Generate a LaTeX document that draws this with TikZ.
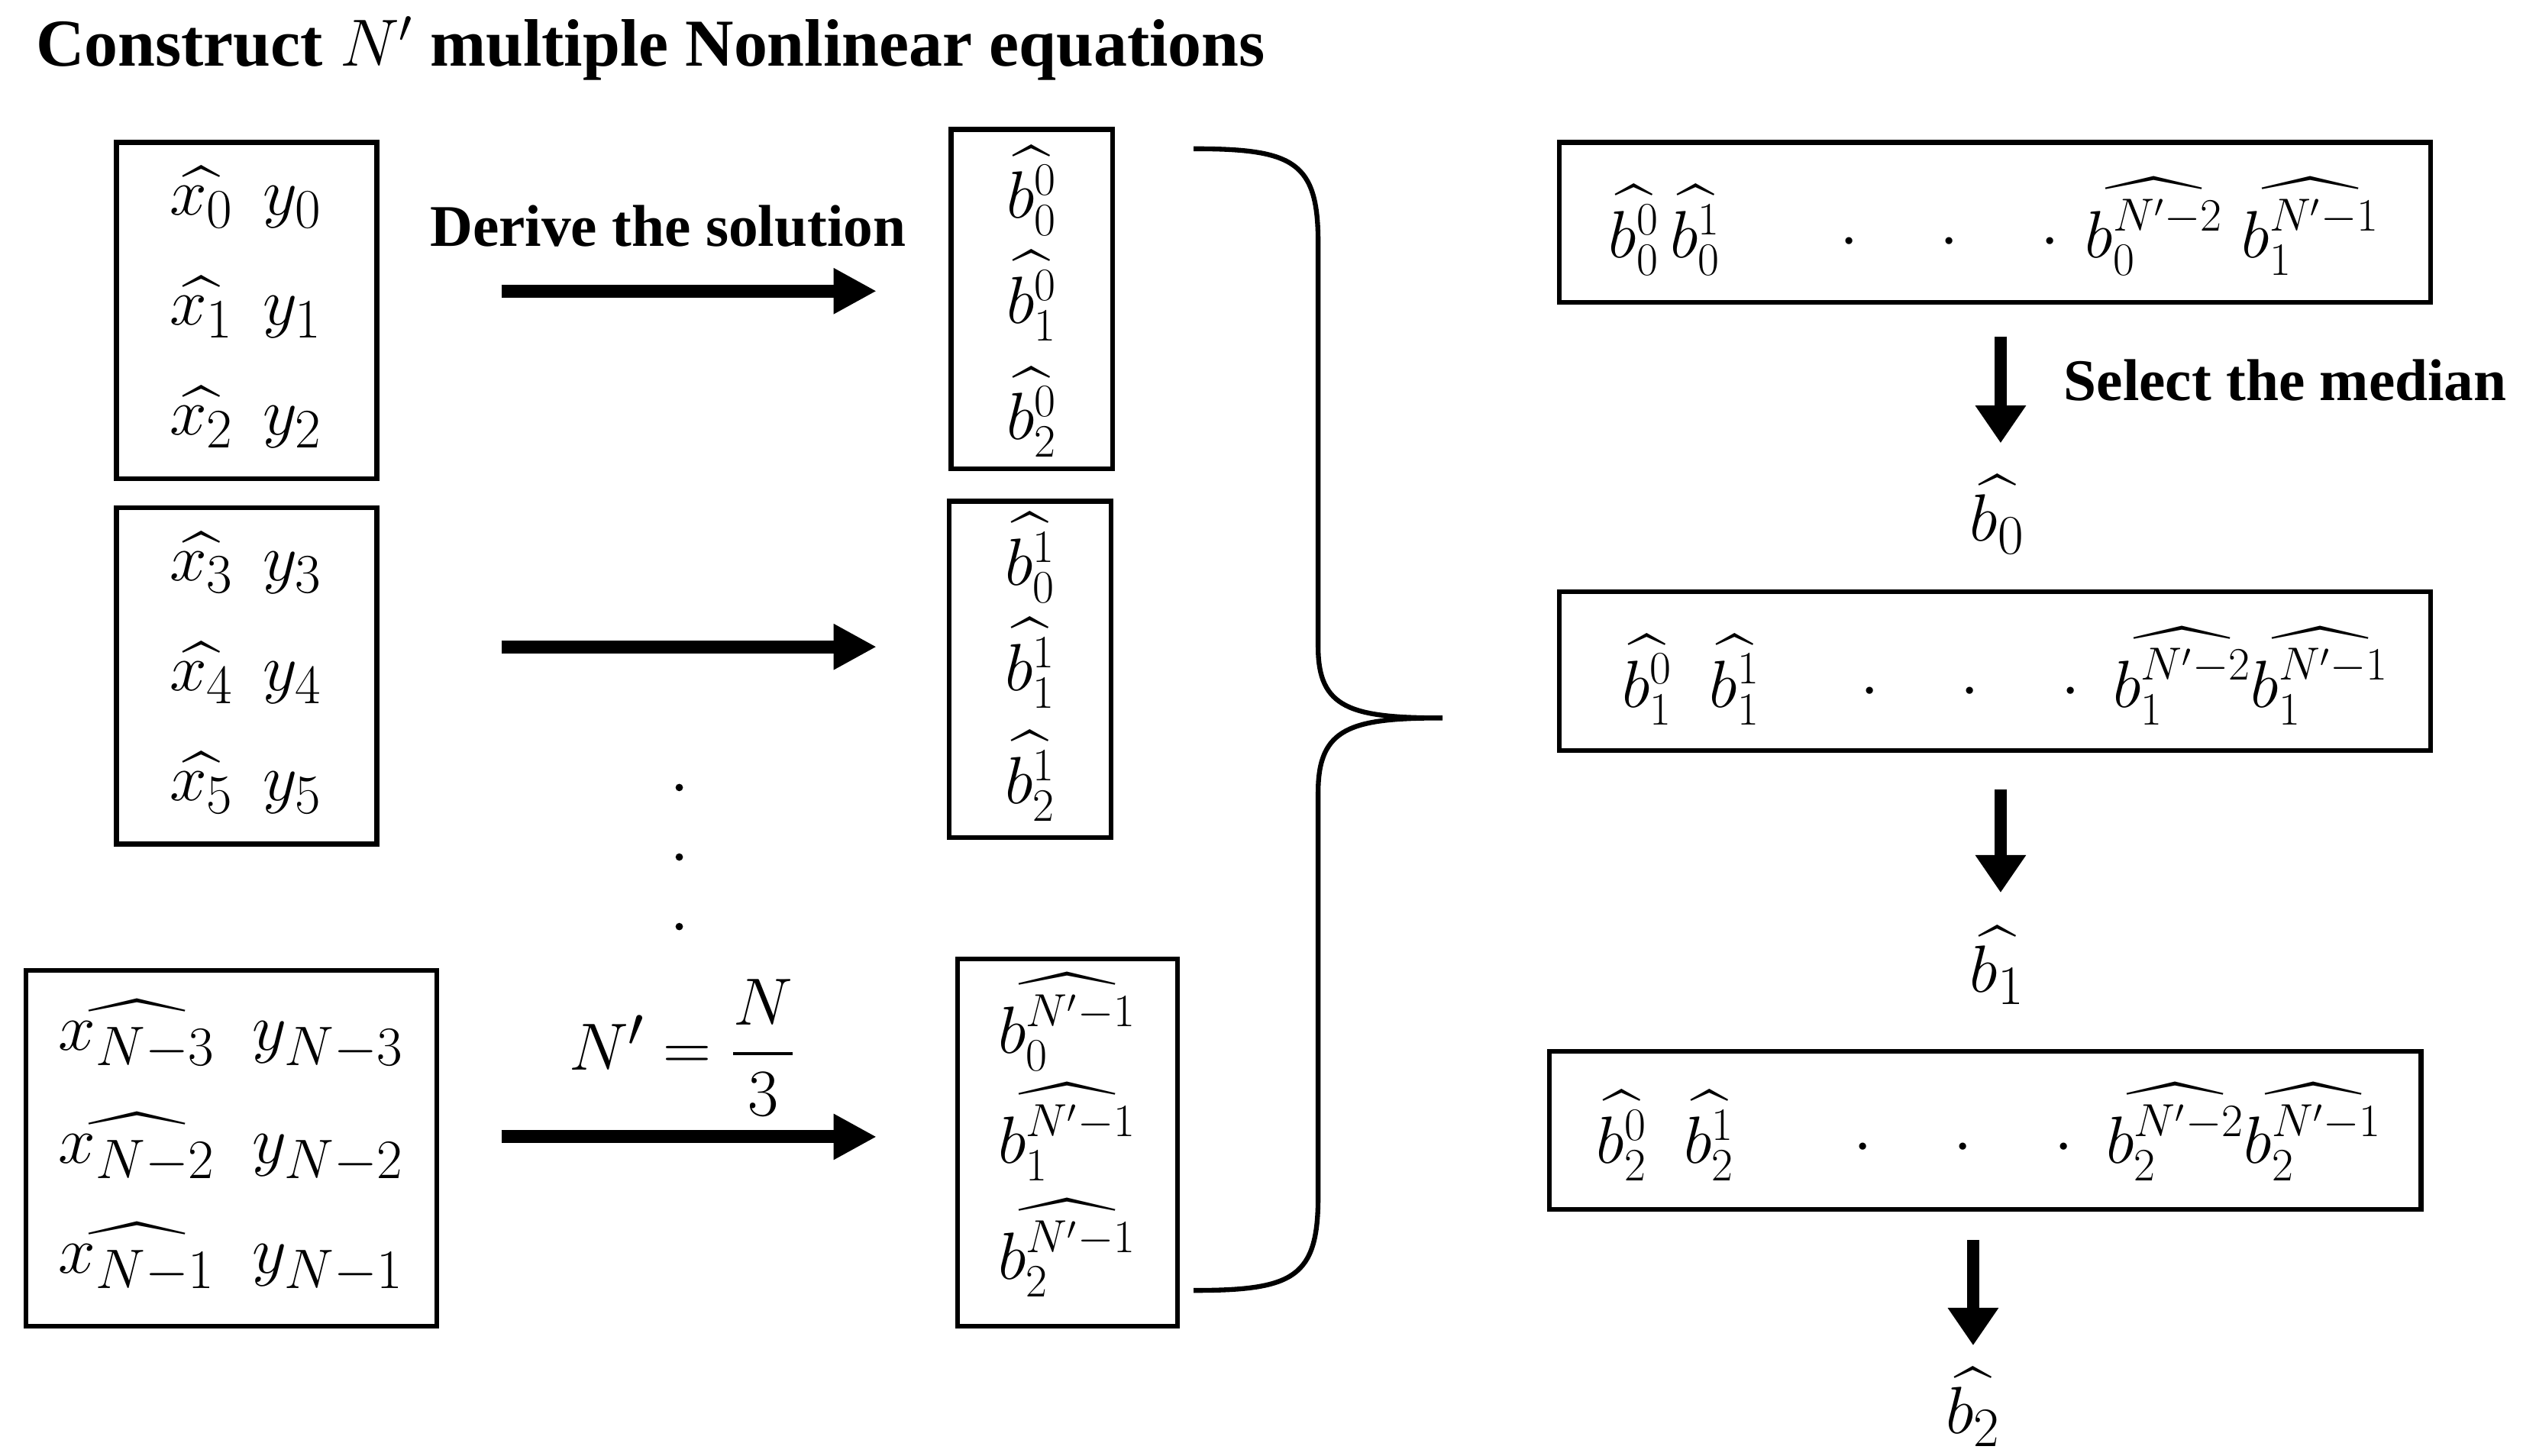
\documentclass[tikz,border=0pt]{standalone}
\usepackage{fontspec}
\setmainfont{Liberation Serif}
\usepackage{amsmath}
\usetikzlibrary{arrows.meta}
\newcommand{\whx}[1]{\ooalign{$#1$\cr\hidewidth$\widehat{\hphantom{#1}}$\hidewidth}}
\begin{document}
\begin{tikzpicture}[x=0.02118cm,y=-0.02118cm,
  m/.style={font=\fontsize{28}{32}\selectfont,inner sep=0pt},
  mb/.style={font=\fontsize{25}{29}\selectfont,inner sep=0pt},
  lab/.style={font=\fontsize{22}{26}\selectfont\bfseries,inner sep=0pt},
  arr/.style={line width=4.8pt,-{Triangle[length=16pt,width=16pt]}},
  darr/.style={line width=4.8pt,-{Triangle[length=14pt,width=18pt]}}]
\useasboundingbox (0,0) rectangle (1560,900);
\node[lab,font=\fontsize{25}{30}\selectfont\bfseries,anchor=west] (title) at (22,30) {Construct $N'$ multiple Nonlinear equations};
% left boxes
\draw[line width=1.8pt] (72,88) rectangle (233,296);
\draw[line width=1.8pt] (72,314) rectangle (233,522);
\draw[line width=1.8pt] (16,600) rectangle (270,820);
\foreach \i/\y in {0/122,1/190,2/258,3/348,4/416,5/484}{
  \node[m] (x\i) at (152,\y) {$\widehat{x_\i}\;\, y_\i$};}
\node[m] (xa) at (143,640) {$\widehat{{x_{N-3}}}\;\; y_{N-3}$};
\node[m] (xb) at (143,710) {$\widehat{{x_{N-2}}}\;\; y_{N-2}$};
\node[m] (xc) at (143,778) {$\widehat{{x_{N-1}}}\;\; y_{N-1}$};
% arrows
\foreach \k/\y in {1/180,2/400,3/703}{
  \coordinate (s\k) at (310,\y); \coordinate (e\k) at (542,\y);
  \draw[arr] (s\k) -- (e\k);}
\node[lab] (derive) at (413,140) {Derive the solution};
\node[m] (np) at (422,648) {$N'=\dfrac{N}{3}$};
\foreach \y in {487,530,573}{\fill (420,\y) circle (2.3);}
% b boxes
\draw[line width=1.8pt] (588,80) rectangle (688,290);
\draw[line width=1.8pt] (587,310) rectangle (687,518);
\draw[line width=1.8pt] (592,593) rectangle (728,820);
\foreach \j/\y in {0/118,1/183,2/255}{\node[mb] (ba\j) at (638,\y) {$\widehat{b_\j^0}$};}
\foreach \j/\y in {0/345,1/410,2/480}{\node[mb] (bb\j) at (637,\y) {$\widehat{b_\j^1}$};}
\foreach \j/\y in {0/632,1/700,2/772}{\node[mb] (bc\j) at (660,\y) {$\widehat{b_\j^{N'-1}}$};}
% brace
\coordinate (bt) at (738,92); \coordinate (bb) at (738,798); \coordinate (tip) at (892,444);
\draw[line width=1.8pt] (bt) .. controls (800,92) and (815,100) .. (815,150) -- (815,400)
  .. controls (815,438) and (835,444) .. (tip)
  .. controls (835,444) and (815,450) .. (815,490) -- (815,740)
  .. controls (815,790) and (800,798) .. (bb);
% right boxes
\draw[line width=1.8pt] (964,88) rectangle (1503,187);
\draw[line width=1.8pt] (964,366) rectangle (1503,464);
\draw[line width=1.8pt] (958,650) rectangle (1497,748);
\node[mb] (r0) at (1233,140) {$\widehat{b_0^0}\,\widehat{b_0^1}\quad\;\;\cdot\quad\cdot\quad\cdot\,\widehat{b_0^{N'-2}}\;\widehat{b_1^{N'-1}}$};
\node[mb] (r1) at (1240,418) {$\widehat{b_1^0}\;\;\widehat{b_1^1}\quad\;\cdot\quad\cdot\quad\cdot\;\widehat{b_1^{N'-2}}\widehat{b_1^{N'-1}}$};
\node[mb] (r2) at (1230,700) {$\widehat{b_2^0}\;\;\widehat{b_2^1}\quad\;\;\cdot\quad\cdot\quad\cdot\;\widehat{b_2^{N'-2}}\widehat{b_2^{N'-1}}$};
\node[m] (h0) at (1235,318) {$\widehat{b_0}$};
\node[m] (h1) at (1235,597) {$\widehat{b_1}$};
\node[m] (h2) at (1220,870) {$\widehat{b_2}$};
\coordinate (d1) at (1237,208); \coordinate (d1e) at (1237,274);
\coordinate (d2) at (1237,488); \coordinate (d2e) at (1237,552);
\coordinate (d3) at (1220,767); \coordinate (d3e) at (1220,832);
\draw[darr] (d1) -- (d1e);
\draw[darr] (d2) -- (d2e);
\draw[darr] (d3) -- (d3e);
\node[lab] (sel) at (1413,235) {Select the median};
\end{tikzpicture}
\end{document}
